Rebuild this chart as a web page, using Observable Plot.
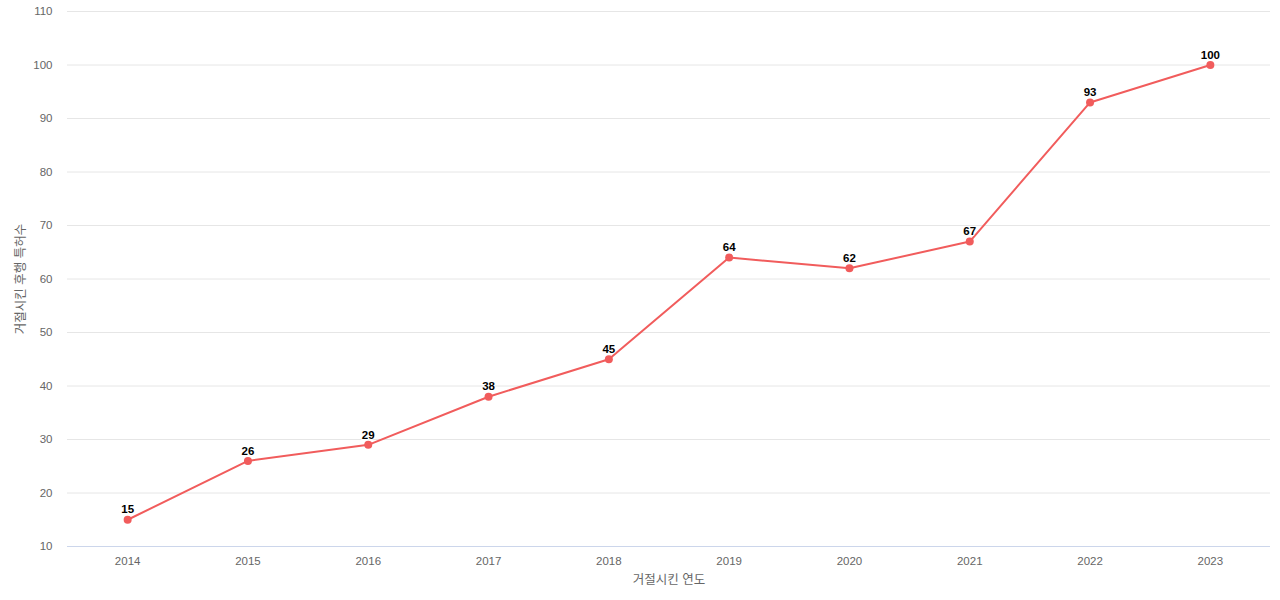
<!DOCTYPE html>
<html><head><meta charset="utf-8">
<script src="https://cdn.jsdelivr.net/npm/d3@7"></script>
<script src="https://cdn.jsdelivr.net/npm/@observablehq/plot@0.6"></script>
<style>
body{margin:0;background:#fff;}
#chart svg{font-family:"Liberation Sans","Noto Sans CJK KR",sans-serif;}
</style>
</head><body><div id="chart"></div>
<script>
const years = ["2014","2015","2016","2017","2018","2019","2020","2021","2022","2023"];
const counts = [15,26,29,38,45,64,62,67,93,100];
const yTicks = [10,20,30,40,50,60,70,80,90,100,110];
const xTitle = "거절시킨 연도";
const yTitle = "거절시킨 후행 특허수";
const data = years.map((y,i)=>({year:y,count:counts[i]}));
const color = "#f15c5c";
const plot = Plot.plot({
  width:1280, height:600,
  marginLeft:67, marginRight:10, marginTop:11, marginBottom:54,
  style:{fontFamily:'"Liberation Sans","Noto Sans CJK KR",sans-serif',fontSize:"11px",color:"#666"},
  x:{type:"point", domain:years, padding:0.5, round:false},
  y:{domain:[10,110]},
  marks:[
    Plot.gridY(yTicks,{stroke:"#e6e6e6",strokeOpacity:1}),
    Plot.ruleY([10],{stroke:"#ccd6eb"}),
    Plot.axisY(yTicks,{tickSize:0,tickPadding:15,fill:"#666",fontSize:11.5,label:null}),
    Plot.axisX({tickSize:0,tickPadding:10,fill:"#666",fontSize:11.5,label:null}),
    Plot.text([xTitle],{frameAnchor:"bottom",lineAnchor:"middle",textAnchor:"middle",dy:33,fill:"#666",fontSize:12.5}),
    Plot.text([yTitle],{frameAnchor:"left",lineAnchor:"middle",textAnchor:"middle",dx:-47,rotate:-90,fill:"#666",fontSize:12.5}),
    Plot.line(data,{x:"year",y:"count",stroke:color,strokeWidth:2}),
    Plot.dot(data,{x:"year",y:"count",fill:color,r:4}),
    Plot.text(data,{x:"year",y:"count",text:d=>String(d.count),dy:-10,fill:"#000",fontWeight:"bold",fontSize:11.5,stroke:"#fff",strokeWidth:2})
  ]
});
document.getElementById("chart").appendChild(plot);
</script></body></html>
